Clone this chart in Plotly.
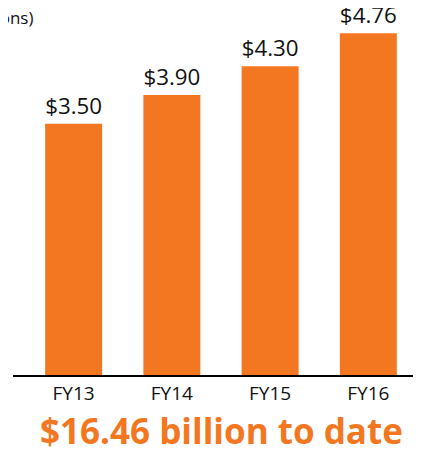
import plotly.graph_objects as go

years = ["FY13", "FY14", "FY15", "FY16"]
amounts = [3.50, 3.90, 4.30, 4.76]
labels = ["$3.50", "$3.90", "$4.30", "$4.76"]

orange = "#F37721"
font = "Open Sans"

fig = go.Figure(
    go.Bar(
        x=years,
        y=amounts,
        text=labels,
        textposition="outside",
        textfont=dict(family=font, size=23, color="#111111"),
        marker=dict(color=orange, line=dict(width=0)),
        width=0.58,
        cliponaxis=False,
    )
)

# page body adds 8px on top/left, margins make up for it
fig.update_layout(
    width=421,
    height=450,
    margin=dict(l=5, r=8, t=0, b=83),
    plot_bgcolor="white",
    paper_bgcolor="white",
    showlegend=False,
    font=dict(family=font),
)

fig.update_xaxes(
    range=[-0.617, 3.536],
    showline=True,
    linecolor="black",
    linewidth=2,
    ticks="",
    tickfont=dict(family=font, size=19, color="#111111"),
    showgrid=False,
)
fig.update_yaxes(
    range=[0, 5.11],
    visible=False,
    showgrid=False,
)

# axis unit note, cut off at the left edge
fig.add_annotation(
    text="(in billions)",
    xref="paper", yref="paper",
    x=0, y=1, xshift=22, yshift=-9,
    xanchor="right", yanchor="middle",
    showarrow=False,
    font=dict(family=font, size=17, color="#111111"),
)

fig.add_annotation(
    text="<b>$16.46 billion to date</b>",
    xref="paper", yref="paper",
    x=0.51, y=0, yshift=-55,
    xanchor="center", yanchor="middle",
    showarrow=False,
    font=dict(family=font, size=35, color=orange),
)

fig.write_html("out.html")
